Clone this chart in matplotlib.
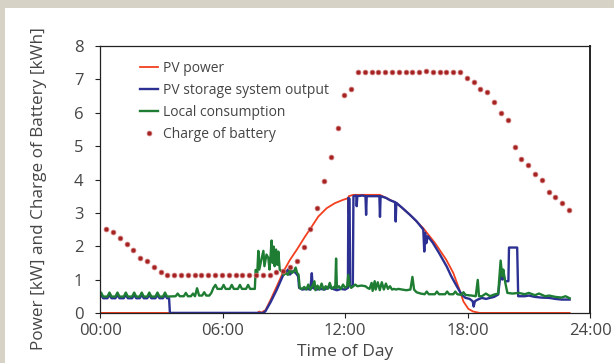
import numpy as np
import matplotlib
matplotlib.use("Agg")
import matplotlib.pyplot as plt
from matplotlib.patches import Rectangle

plt.rcParams['font.family'] = ['Open Sans', 'DejaVu Sans']

# battery charge, one reading every 20 minutes from 0:18 to 23:00
charge_t = np.arange(69) / 3.0 + 0.3
charge_v = [2.51, 2.42, 2.26, 2.08, 1.89, 1.64, 1.56, 1.39, 1.22, 1.14,
            1.14, 1.14, 1.14, 1.14, 1.14, 1.14, 1.14, 1.14, 1.14, 1.14,
            1.14, 1.14, 1.14, 1.14, 1.14, 1.24, 1.27, 1.39, 1.57, 1.99,
            2.53, 3.16, 3.95, 4.67, 5.53, 6.52, 6.70, 7.21, 7.21, 7.21,
            7.21, 7.21, 7.21, 7.21, 7.21, 7.21, 7.21, 7.25, 7.21, 7.21,
            7.21, 7.21, 7.21, 7.03, 6.91, 6.70, 6.61, 6.31, 6.00, 5.78,
            4.96, 4.62, 4.42, 4.16, 3.99, 3.63, 3.47, 3.30, 3.10]

# PV power
pv_t = [0.0, 7.7, 7.8, 7.9, 8.0, 8.1, 8.35, 8.65, 8.98, 9.3, 9.63, 10.04,
        10.37, 10.69, 11.1, 11.5, 11.9, 12.1, 12.14, 12.16, 12.18, 12.4,
        13.7, 14.0, 14.53, 15.18, 15.83, 16.4, 16.95, 17.3, 17.6, 17.8,
        18.04, 18.28, 18.6, 23.0]
pv_v = [0.0, 0.0, 0.04, 0.0, 0.05, 0.08, 0.39, 0.79, 1.24, 1.59, 1.89, 2.29,
        2.59, 2.89, 3.14, 3.29, 3.39, 3.43, 3.45, 3.0, 3.5, 3.54,
        3.54, 3.45, 3.29, 2.94, 2.54, 2.1, 1.6, 1.2, 0.7, 0.34,
        0.12, 0.04, 0.0, 0.0]

# PV storage system output
out_t = [0.0, 0.05, 0.15, 0.36, 0.46, 0.56, 0.75, 0.85, 0.95, 1.16, 1.26,
         1.36, 1.57, 1.67, 1.77, 1.94, 2.04, 2.14, 2.31, 2.41, 2.51, 2.71,
         2.81, 2.91, 3.08, 3.18, 3.28, 3.38, 3.42, 8.0, 8.1, 8.35, 8.65,
         8.98, 9.1, 9.2, 9.3, 9.45, 9.58, 9.7, 9.75, 9.9, 10.1, 10.3, 10.37,
         10.42, 10.6, 10.8, 11.0, 11.2, 11.4, 11.6, 11.8, 12.0, 12.14, 12.16,
         12.22, 12.25, 12.38, 12.41, 12.55, 12.57, 12.6, 12.85, 13.0, 13.03,
         13.06, 13.68, 13.71, 13.74, 14.0, 14.2, 14.45, 14.48, 14.51, 14.8,
         15.18, 15.5, 15.83, 15.88, 15.92, 15.98, 16.05, 16.3, 16.6, 16.98,
         17.2, 17.47, 17.71, 17.9, 18.1, 18.25, 18.3, 18.36, 18.5, 18.7,
         18.9, 19.1, 19.3, 19.5, 19.62, 19.7, 19.75, 19.85, 20.0, 20.03,
         20.43, 20.48, 20.8, 21.0, 21.3, 21.6, 22.0, 22.3, 22.6, 23.0]
out_v = [0.5, 0.54, 0.44, 0.44, 0.54, 0.44, 0.44, 0.54, 0.44, 0.44, 0.54,
         0.44, 0.44, 0.54, 0.44, 0.44, 0.54, 0.44, 0.44, 0.54, 0.44, 0.44,
         0.54, 0.44, 0.44, 0.54, 0.44, 0.44, 0.0, 0.0, 0.05, 0.32, 0.69,
         1.15, 1.2, 1.3, 1.15, 1.25, 1.2, 1.1, 0.75, 0.7, 0.72, 0.7, 1.19,
         0.75, 0.7, 0.72, 0.7, 0.78, 0.72, 0.68, 0.72, 0.7, 0.75, 3.45,
         3.42, 0.8, 0.8, 3.5, 3.52, 3.2, 3.5, 3.52, 3.5, 2.94,
         3.5, 3.5, 2.88, 3.5, 3.45, 3.38, 3.32, 2.74, 3.3, 3.15,
         2.94, 2.75, 2.5, 1.84, 2.4, 2.09, 2.3, 2.1, 1.8, 1.39,
         1.1, 0.8, 0.55, 0.45, 0.42, 0.35, 0.19, 0.35, 0.4, 0.45,
         0.42, 0.45, 0.48, 0.55, 1.2, 1.0, 1.15, 0.95, 0.95, 1.96,
         1.96, 0.5, 0.5, 0.52, 0.48, 0.46, 0.45, 0.42, 0.4, 0.4]

# local consumption
load_t = [0.0, 0.05, 0.15, 0.36, 0.46, 0.56, 0.75, 0.85, 0.95, 1.16, 1.26,
          1.36, 1.57, 1.67, 1.77, 1.94, 2.04, 2.14, 2.31, 2.41, 2.51, 2.71,
          2.81, 2.91, 3.08, 3.18, 3.28, 3.7, 3.8, 3.9, 4.1, 4.2, 4.3, 4.45,
          4.55, 4.65, 4.75, 4.85, 5.0, 5.1, 5.2, 5.35, 5.45, 5.55, 5.65,
          5.75, 5.95, 6.05, 6.15, 6.35, 6.45, 6.55, 6.75, 6.85, 6.95, 7.15,
          7.25, 7.35, 7.58, 7.62, 7.7, 7.75, 7.8, 7.9, 8.0, 8.05, 8.15, 8.24,
          8.3, 8.35, 8.4, 8.45, 8.5, 8.55, 8.62, 8.68, 8.73, 8.8, 8.9, 9.0,
          9.1, 9.2, 9.3, 9.4, 9.5, 9.58, 9.65, 9.72, 9.78, 9.9, 10.0, 10.1,
          10.2, 10.3, 10.4, 10.5, 10.55, 10.65, 10.75, 10.85, 10.95, 11.05,
          11.15, 11.25, 11.35, 11.45, 11.52, 11.56, 11.6, 11.7, 11.8, 11.9,
          12.0, 12.1, 12.16, 12.22, 12.3, 12.4, 12.5, 12.6, 12.8, 13.0, 13.1,
          13.2, 13.3, 13.35, 13.45, 13.5, 13.6, 13.7, 13.8, 13.9, 14.0, 14.1,
          14.2, 14.3, 14.4, 14.5, 14.6, 14.8, 15.0, 15.2, 15.3, 15.38, 15.5,
          15.7, 15.9, 16.0, 16.1, 16.4, 16.5, 16.6, 16.9, 17.0, 17.1, 17.3,
          17.4, 17.5, 17.7, 17.8, 17.9, 18.2, 18.4, 18.5, 18.56, 18.7, 18.9,
          19.1, 19.3, 19.5, 19.62, 19.7, 19.75, 19.85, 19.95, 20.2, 20.5,
          20.8, 21.0, 21.3, 21.5, 21.8, 22.0, 22.3, 22.6, 22.8, 23.0]
load_v = [0.55, 0.61, 0.49, 0.49, 0.61, 0.49, 0.49, 0.61, 0.49, 0.49, 0.61,
          0.49, 0.49, 0.61, 0.49, 0.49, 0.61, 0.49, 0.49, 0.61, 0.49, 0.49,
          0.61, 0.49, 0.49, 0.61, 0.49, 0.5, 0.58, 0.5, 0.5, 0.6, 0.5, 0.5,
          0.58, 0.5, 0.74, 0.52, 0.52, 0.62, 0.52, 0.52, 0.6, 0.75, 0.84,
          0.72, 0.72, 0.84, 0.72, 0.72, 0.84, 0.72, 0.72, 0.84, 0.72, 0.72,
          0.84, 0.72, 0.72, 1.29, 1.2, 1.86, 1.3, 1.6, 1.86, 1.4, 1.75, 1.65,
          1.3, 1.7, 2.17, 1.5, 1.99, 1.4, 1.9, 1.44, 1.84, 1.3, 1.24, 1.14,
          1.2, 1.14, 1.3, 1.2, 1.25, 1.36, 1.2, 1.15, 0.75, 0.72, 0.78, 0.7,
          0.85, 0.7, 0.8, 0.95, 0.68, 0.82, 0.7, 0.88, 0.7, 0.8,
          0.72, 0.9, 0.72, 0.78, 0.75, 1.63, 0.75, 0.8, 0.72, 0.85,
          0.75, 0.8, 1.14, 0.82, 0.75, 0.8, 0.85, 0.8, 0.82, 0.8, 0.75,
          0.72, 0.9, 0.66, 0.95, 0.7, 0.92, 0.68, 0.92, 0.7, 0.88, 0.72,
          0.8, 0.7, 0.72, 0.7, 0.72, 0.7, 0.68, 0.7, 1.08, 0.7, 0.62,
          0.58, 0.56, 0.64, 0.56, 0.56, 0.64, 0.56, 0.56, 0.64, 0.56, 0.56,
          0.64, 0.56, 0.54, 0.62, 0.54, 0.52, 0.5, 0.99, 0.5, 0.5, 0.58,
          0.5, 0.55, 0.58, 1.57, 1.1, 1.3, 0.9, 0.6, 0.58, 0.6,
          0.56, 0.6, 0.53, 0.58, 0.5, 0.52, 0.48, 0.46, 0.5, 0.44]

hours = [0, 6, 12, 18, 24]
hour_labels = ['00:00', '06:00', '12:00', '18:00', '24:00']

fig = plt.figure(figsize=(6.14, 3.63), dpi=100)
fig.patch.set_facecolor('#d6d3c6')
fig.patches.append(Rectangle((0.008, 0), 1.0, 0.978, transform=fig.transFigure,
                             facecolor='white', edgecolor='none', zorder=-5))

ax = fig.add_axes([0.163, 0.138, 0.798, 0.735])
ax.set_zorder(2)
ax.set_facecolor('white')

ax.plot(pv_t, pv_v, color='#f2401f', lw=1.3, label='PV power')
ax.plot(out_t, out_v, color='#2b3092', lw=1.7, label='PV storage system output')
ax.plot(load_t, load_v, color='#1e7d33', lw=1.7, label='Local consumption')
ax.plot(charge_t, charge_v, ls='none', marker='o', ms=3.4, color='#a52222',
        mec='#cc7070', mew=0.6, label='Charge of battery')

ax.set_xlim(0, 24)
ax.set_ylim(0, 8)
ax.set_xticks(hours)
ax.set_xticklabels(hour_labels)
ax.set_yticks(range(9))

grey = '#454545'
ax.tick_params(axis='both', direction='out', length=3.6, width=0.8,
               colors='#222222', labelcolor=grey, labelsize=12)
ax.tick_params(axis='y', pad=8.5)
ax.tick_params(axis='x', pad=3.5)
for s in ax.spines.values():
    s.set_color('#222222')
    s.set_linewidth(0.9)
ax.spines['right'].set_linewidth(1.4)

ax.set_xlabel('Time of Day', fontsize=12.5, color=grey, labelpad=3.5)
ax.set_ylabel('Power [kW] and Charge of Battery [kWh]', fontsize=12.3,
              color=grey)
ax.yaxis.set_label_coords(-0.108, 0.466)

leg = ax.legend(loc='upper left', bbox_to_anchor=(0.055, 0.99), frameon=False,
                fontsize=10, handlelength=1.3, handletextpad=0.4,
                labelspacing=0.5, markerscale=1.0)
for t in leg.get_texts():
    t.set_color(grey)

fig.savefig('out.png', dpi=100, facecolor=fig.get_facecolor())
